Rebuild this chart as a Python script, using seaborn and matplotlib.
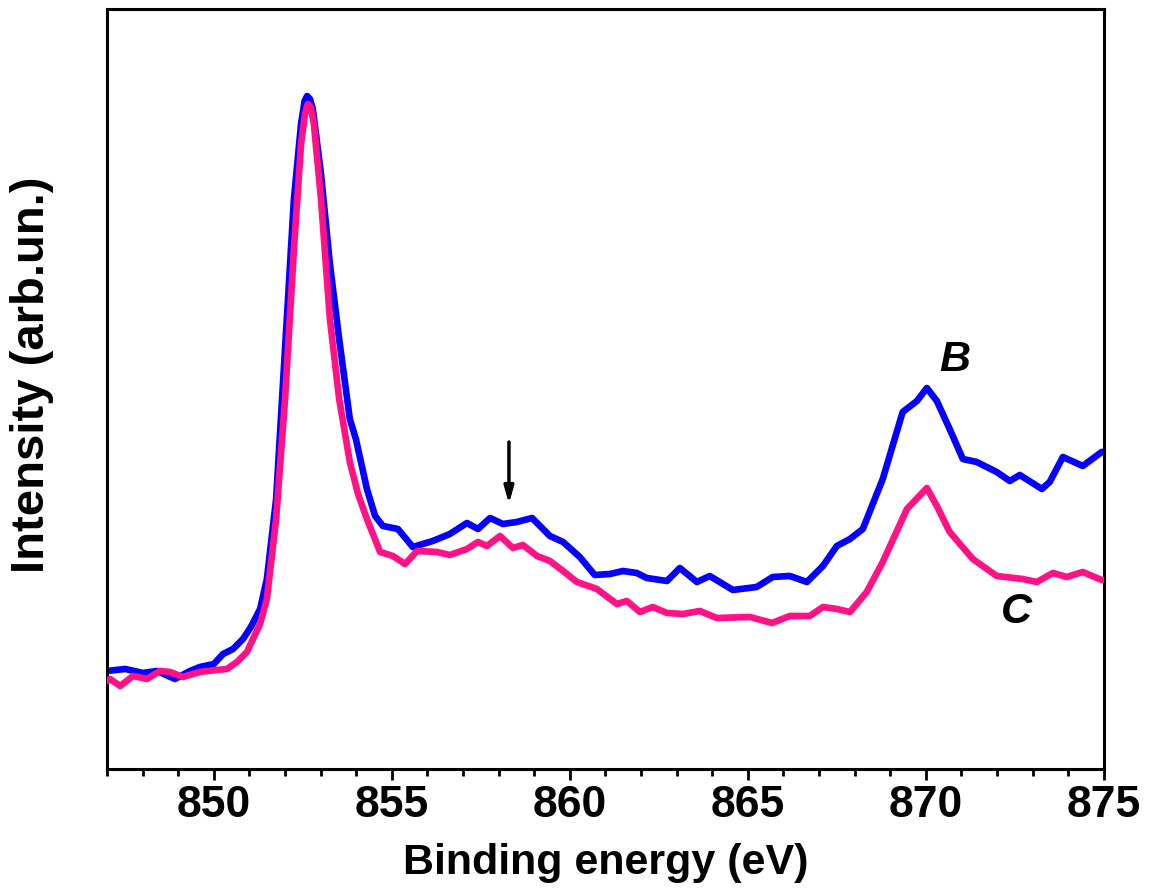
import numpy as np
import pandas as pd
import matplotlib
matplotlib.use("Agg")
import matplotlib.pyplot as plt
from matplotlib.ticker import MultipleLocator
import seaborn as sns

# Binding energy (eV) and intensity (arb. units) for sample B
energy_B = [847.00, 847.51, 848.01, 848.40, 848.91, 849.33, 849.61, 850.00, 850.26, 850.54,
            850.82, 851.04, 851.30, 851.49, 851.75, 852.00, 852.25, 852.45, 852.55, 852.62,
            852.70, 852.78, 853.01, 853.26, 853.52, 853.82, 853.99, 854.30, 854.53, 854.75,
            855.17, 855.59, 855.87, 856.15, 856.63, 857.11, 857.42, 857.76, 858.12, 858.51,
            858.94, 859.44, 859.81, 860.28, 860.70, 861.13, 861.49, 861.88, 862.16, 862.73,
            863.09, 863.57, 863.93, 864.58, 865.25, 865.70, 866.18, 866.66, 867.11, 867.50,
            867.87, 868.23, 868.79, 869.35, 869.75, 870.03, 870.31, 870.67, 871.04, 871.43,
            871.99, 872.36, 872.64, 873.26, 873.48, 873.85, 874.41, 874.94, 875.00]
intensity_B = [98, 100, 96, 98, 90, 98, 102, 105, 115, 120,
               130, 142, 160, 190, 270, 420, 570, 645, 668, 673,
               670, 660, 595, 505, 430, 350, 330, 280, 253, 243,
               240, 222, 225, 228, 235, 246, 240, 251, 245, 247,
               251, 233, 227, 212, 194, 195, 198, 196, 191, 188,
               201, 187, 193, 179, 182, 192, 193, 187, 203, 223,
               230, 240, 290, 357, 368, 381, 368, 340, 310, 307,
               297, 288, 294, 280, 287, 312, 303, 317, 317]

# Binding energy (eV) and intensity (arb. units) for sample C
energy_C = [847.00, 847.08, 847.37, 847.73, 848.12, 848.49, 848.77, 849.13, 849.61, 850.09,
            850.37, 850.65, 850.93, 851.10, 851.30, 851.49, 851.75, 852.00, 852.25, 852.45,
            852.56, 852.64, 852.72, 852.81, 853.01, 853.26, 853.52, 853.82, 854.05, 854.30,
            854.67, 855.03, 855.37, 855.71, 856.27, 856.63, 857.11, 857.42, 857.67, 858.04,
            858.40, 858.68, 859.08, 859.44, 859.81, 860.20, 860.76, 861.32, 861.60, 861.97,
            862.33, 862.73, 863.18, 863.65, 864.13, 865.06, 865.68, 866.18, 866.74, 867.11,
            867.50, 867.87, 868.34, 868.79, 869.47, 870.03, 870.31, 870.67, 871.32, 871.99,
            872.72, 873.12, 873.57, 873.96, 874.41, 874.94, 875.00]
intensity_C = [88, 90, 83, 93, 90, 98, 97, 92, 97, 99,
               100, 107, 117, 130, 145, 170, 250, 370, 520, 625,
               655, 665, 662, 645, 570, 450, 370, 307, 275, 250,
               217, 213, 205, 218, 217, 214, 220, 227, 223, 233,
               221, 224, 213, 208, 198, 187, 180, 165, 168, 157,
               162, 156, 155, 158, 151, 152, 146, 153, 153, 162,
               160, 157, 177, 207, 260, 281, 263, 237, 210, 193,
               190, 187, 196, 192, 197, 189, 189]

x_ticks = [850, 855, 860, 865, 870, 875]
x_limits = (847, 875)
y_limits = (0, 760)

sns.set_style("ticks")
plt.rcParams['font.family'] = ['Liberation Sans', 'DejaVu Sans']
plt.rcParams['text.color'] = 'black'
plt.rcParams['axes.labelcolor'] = 'black'
plt.rcParams['xtick.color'] = 'black'
plt.rcParams['ytick.color'] = 'black'

df_B = pd.DataFrame({"energy": energy_B, "intensity": intensity_B})
df_C = pd.DataFrame({"energy": energy_C, "intensity": intensity_C})

fig = plt.figure(figsize=(11.51, 8.95), dpi=100)
ax = fig.add_axes([0.093, 0.1397, 0.866, 0.8491])

sns.lineplot(data=df_B, x="energy", y="intensity", ax=ax, color="#0500FF",
             linewidth=4.8, sort=False, estimator=None, zorder=2)
sns.lineplot(data=df_C, x="energy", y="intensity", ax=ax, color="#FF1286",
             linewidth=4.8, sort=False, estimator=None, zorder=3)
for ln in ax.lines:
    ln.set_solid_joinstyle('round')
    ln.set_solid_capstyle('round')

ax.set_xlim(*x_limits)
ax.set_ylim(*y_limits)
ax.set_xticks(x_ticks)
ax.xaxis.set_minor_locator(MultipleLocator(1))
ax.set_yticks([])

for s in ax.spines.values():
    s.set_linewidth(2.2)
    s.set_color("black")

ax.tick_params(axis='x', which='major', direction='out', length=8, width=2,
               labelsize=32, pad=3, colors='black')
ax.tick_params(axis='x', which='minor', direction='out', length=5, width=2)
for lab in ax.get_xticklabels():
    lab.set_fontweight('bold')

ax.set_xlabel("Binding energy (eV)", fontsize=31, fontweight='bold', labelpad=12)
ax.set_ylabel("Intensity (arb.un.)", fontsize=34, fontweight='bold', labelpad=38)
ax.yaxis.label.set_y(0.52)

ax.text(870.81, 410, "B", fontsize=31, fontweight='bold', fontstyle='italic',
        ha='center', va='center')
ax.text(872.55, 158, "C", fontsize=31, fontweight='bold', fontstyle='italic',
        ha='center', va='center')
ax.annotate("", xy=(858.29, 265), xytext=(858.29, 327),
            arrowprops=dict(arrowstyle="-|>,head_length=1.0,head_width=0.28",
                            color="black", lw=2.5, shrinkA=0, shrinkB=0))

fig.savefig("out.png", dpi=100)
